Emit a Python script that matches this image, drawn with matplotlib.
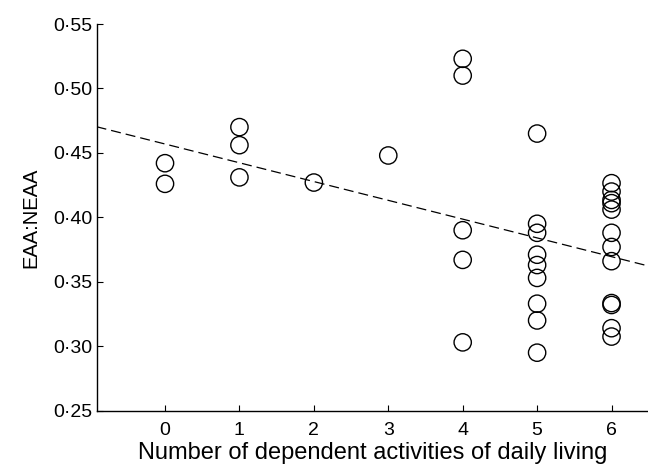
import matplotlib
matplotlib.use('Agg')
import matplotlib.pyplot as plt

plt.rcParams['font.family'] = ['Liberation Sans', 'DejaVu Sans']

# number of dependent ADL and EAA:NEAA ratio
adl = [0, 0,
       1, 1, 1,
       2,
       3,
       4, 4, 4, 4, 4,
       5, 5, 5, 5, 5, 5, 5, 5, 5,
       6, 6, 6, 6, 6, 6, 6, 6, 6, 6, 6, 6]
ratio = [0.442, 0.426,
         0.470, 0.456, 0.431,
         0.427,
         0.448,
         0.523, 0.510, 0.390, 0.367, 0.303,
         0.465, 0.395, 0.388, 0.371, 0.363, 0.353, 0.333, 0.320, 0.295,
         0.4265, 0.420, 0.4135, 0.411, 0.406, 0.388, 0.377, 0.366, 0.3335, 0.332, 0.314, 0.3075]

# fitted line (intercept, slope)
fit_a = 0.4569
fit_b = -0.01457

yticks = [0.25, 0.30, 0.35, 0.40, 0.45, 0.50, 0.55]
ytick_labels = ['0·25', '0·30', '0·35', '0·40', '0·45', '0·50', '0·55']
xticks = [0, 1, 2, 3, 4, 5, 6]

fig = plt.figure(figsize=(6.48, 4.67), dpi=100)
ax = fig.add_axes([0.149, 0.1206, 0.851, 0.828])

xlo, xhi = -0.92, 6.49
ax.plot([xlo, xhi], [fit_a + fit_b * xlo, fit_a + fit_b * xhi],
        color='black', lw=0.9, dashes=(8, 4))
ax.scatter(adl, ratio, s=155, facecolors='none', edgecolors='black', linewidths=1.0, zorder=3)

ax.set_xlim(xlo, xhi)
ax.set_ylim(0.25, 0.55)
ax.set_xticks(xticks)
ax.set_yticks(yticks)
ax.set_yticklabels(ytick_labels)
ax.tick_params(direction='in', length=4, width=0.8, labelsize=14, pad=3)
ax.tick_params(axis='x', pad=8)
for s in ['top', 'right']:
    ax.spines[s].set_visible(False)
for s in ['left', 'bottom']:
    ax.spines[s].set_linewidth(1.0)

ax.set_xlabel('Number of dependent activities of daily living', fontsize=17, labelpad=2)
ax.set_ylabel('EAA:NEAA', fontsize=14.5, labelpad=9)

fig.savefig('out.png', dpi=100)
